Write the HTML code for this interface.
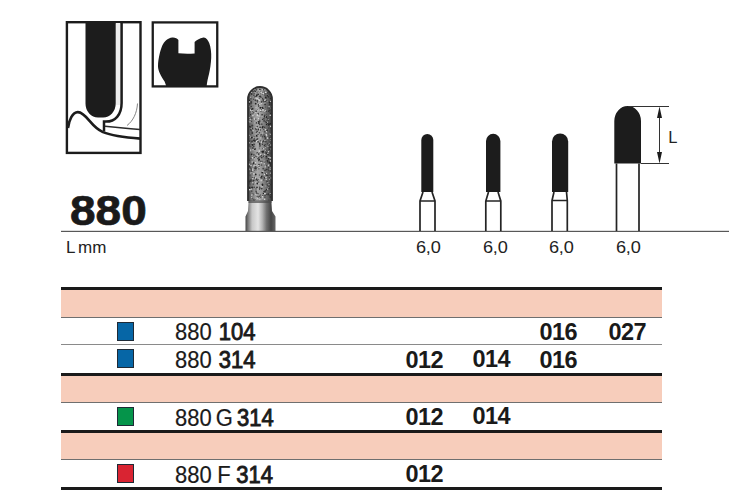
<!DOCTYPE html>
<html><head><meta charset="utf-8">
<style>
html,body{margin:0;padding:0;background:#fff;}
body{width:735px;height:500px;position:relative;overflow:hidden;font-family:"Liberation Sans",sans-serif;color:#1c1c1c;}
.a{position:absolute;}
.pink{position:absolute;left:61px;width:601px;background:#f7cdbb;}
.blk{position:absolute;left:61px;width:601px;height:3px;background:#1a1a1a;}
.gry{position:absolute;left:61px;width:601px;height:1px;background:#8a8a8a;}
.sq{position:absolute;left:117px;width:15px;height:17px;border:1px solid #1e2a36;}
.t{position:absolute;font-size:23px;line-height:22px;white-space:pre;color:#1a1a1a;transform-origin:0 0;transform:scaleX(0.955);word-spacing:1px;-webkit-text-stroke:0.2px #1a1a1a;}
.b{font-weight:bold;}
.t .b{font-weight:normal;-webkit-text-stroke:0.9px #1a1a1a;}
.n{position:absolute;font-size:23.5px;line-height:22px;white-space:pre;color:#1a1a1a;font-weight:bold;letter-spacing:-0.55px;}
.lab{position:absolute;font-size:16.5px;line-height:16px;white-space:pre;color:#222;letter-spacing:-0.2px;transform-origin:0 0;transform:scaleX(1.1);}
</style></head><body>
<svg class="a" style="left:0;top:0" width="735" height="500" viewBox="0 0 735 500">
<!-- diagram box 1 -->
<rect x="66.9" y="22.2" width="73.6" height="130.7" fill="none" stroke="#1c1c1c" stroke-width="2.4"/>
<rect x="115.5" y="23" width="5" height="82" fill="#ededed"/>
<path d="M85.5,23 L115.7,23 L115.7,103.6 A12.5,14 0 0 1 103.2,117.6 L98,117.6 A12.5,14 0 0 1 85.5,103.6 Z" fill="#1c1c1c"/>
<path d="M121.6,23 L121.6,103 C121.6,115 115,121.6 106,121.6 L104,121.6 L104,131.5" fill="none" stroke="#1c1c1c" stroke-width="2.5"/>
<path d="M68,128 C69,120 72.5,112.2 77.8,112.1 C82,112 86,116.5 90,121.3 C93.5,125.5 97.5,129.5 103,132.1 C110,135 120,137 140.5,138.6" fill="none" stroke="#1c1c1c" stroke-width="2.6"/>
<path d="M105,126.3 C115,127.3 128,128.5 140,129.5" fill="none" stroke="#2a2a2a" stroke-width="1.5"/>
<path d="M137.5,103.5 C137,113 133,121 127,125.5" fill="none" stroke="#777" stroke-width="0.9"/>
<!-- box 2 -->
<rect x="152.75" y="22.4" width="64.5" height="64" fill="none" stroke="#1c1c1c" stroke-width="2.3"/>
<path d="M166.4,86.5 L164.6,81.6 C161,76 158,71 158,66 C158.2,59 160,51 162.3,45.5 C164,41.5 167.5,38 172.4,37.4 C175,37.2 177.5,38.5 178.4,40 L178.4,53.2 C184,53.8 189,53.8 194.6,53.4 L194.6,42 C196,40.5 199.5,38.5 203.5,37.6 C206,37.3 208,40 209.2,43 C210.8,47 211.5,53 211.2,58 C211,63 210,70 209,74 C208,78 207,82 206.6,86.5 Z" fill="#1c1c1c"/>
<!-- diamond bur -->
<defs><clipPath id="hc"><path d="M248,201 L248,99 A12,12 0 0 1 272,99 L272,201 Z"/></clipPath>
<linearGradient id="hg" x1="0" x2="1" y1="0" y2="0"><stop offset="0" stop-color="#3a3a3a"/><stop offset="0.12" stop-color="#707070"/><stop offset="0.38" stop-color="#a8a8a8"/><stop offset="0.55" stop-color="#989898"/><stop offset="0.78" stop-color="#6a6a6a"/><stop offset="0.9" stop-color="#555"/><stop offset="1" stop-color="#2e2e2e"/></linearGradient>
<linearGradient id="sg" x1="0" x2="1" y1="0" y2="0"><stop offset="0" stop-color="#444"/><stop offset="0.08" stop-color="#777"/><stop offset="0.22" stop-color="#c8c8c8"/><stop offset="0.42" stop-color="#e4e4e4"/><stop offset="0.56" stop-color="#b4b4b4"/><stop offset="0.7" stop-color="#707070"/><stop offset="0.85" stop-color="#454545"/><stop offset="1" stop-color="#666"/></linearGradient>
</defs>
<path d="M248.5,200 L271.5,200 L271.5,203 L272,211 L275.5,216.5 L275.5,231 L245.5,231 L245.5,216.5 L248,211 L248.5,203 Z" fill="url(#sg)"/>
<g clip-path="url(#hc)"><rect x="248" y="87" width="24" height="114" fill="url(#hg)"/>
<circle cx="262.8" cy="171.5" r="0.8" fill="#c8c8c8"/><circle cx="267.8" cy="175.3" r="0.6" fill="#222"/><circle cx="251.1" cy="140.8" r="0.6" fill="#444"/><circle cx="254.2" cy="170.3" r="0.6" fill="#333"/><circle cx="252.2" cy="177.7" r="0.5" fill="#222"/><circle cx="251.5" cy="197.4" r="0.5" fill="#c8c8c8"/><circle cx="268.6" cy="120.5" r="0.9" fill="#444"/><circle cx="262.9" cy="108.4" r="0.9" fill="#333"/><circle cx="255.4" cy="128.6" r="0.5" fill="#222"/><circle cx="256.1" cy="180.0" r="0.7" fill="#444"/><circle cx="256.3" cy="122.9" r="0.8" fill="#333"/><circle cx="252.7" cy="141.2" r="0.5" fill="#222"/><circle cx="270.3" cy="128.2" r="0.6" fill="#333"/><circle cx="256.9" cy="153.1" r="0.5" fill="#222"/><circle cx="262.8" cy="195.4" r="0.5" fill="#333"/><circle cx="256.4" cy="127.9" r="0.7" fill="#c8c8c8"/><circle cx="262.1" cy="175.9" r="0.6" fill="#333"/><circle cx="270.3" cy="98.3" r="0.6" fill="#222"/><circle cx="256.3" cy="192.0" r="0.7" fill="#333"/><circle cx="255.5" cy="177.9" r="0.7" fill="#dadada"/><circle cx="271.4" cy="106.2" r="0.5" fill="#dadada"/><circle cx="249.2" cy="171.3" r="0.6" fill="#444"/><circle cx="258.2" cy="94.3" r="0.9" fill="#333"/><circle cx="256.2" cy="111.3" r="0.9" fill="#222"/><circle cx="263.0" cy="176.7" r="0.5" fill="#222"/><circle cx="249.9" cy="135.3" r="0.5" fill="#c8c8c8"/><circle cx="270.9" cy="139.0" r="0.7" fill="#dadada"/><circle cx="254.8" cy="140.9" r="0.9" fill="#444"/><circle cx="270.6" cy="158.5" r="0.7" fill="#222"/><circle cx="259.8" cy="146.0" r="0.7" fill="#222"/><circle cx="266.6" cy="175.2" r="0.8" fill="#333"/><circle cx="256.9" cy="167.3" r="0.6" fill="#444"/><circle cx="265.0" cy="195.6" r="0.6" fill="#222"/><circle cx="259.4" cy="175.0" r="0.6" fill="#333"/><circle cx="267.3" cy="160.8" r="0.8" fill="#444"/><circle cx="256.4" cy="193.5" r="0.6" fill="#c8c8c8"/><circle cx="268.5" cy="165.4" r="0.9" fill="#c8c8c8"/><circle cx="260.7" cy="106.7" r="0.8" fill="#dadada"/><circle cx="255.0" cy="96.9" r="0.8" fill="#444"/><circle cx="266.4" cy="153.3" r="0.7" fill="#444"/><circle cx="261.2" cy="185.6" r="0.6" fill="#c8c8c8"/><circle cx="252.2" cy="137.6" r="0.7" fill="#444"/><circle cx="252.7" cy="168.8" r="0.9" fill="#c8c8c8"/><circle cx="249.7" cy="103.0" r="0.6" fill="#222"/><circle cx="261.1" cy="134.7" r="0.6" fill="#222"/><circle cx="262.1" cy="114.8" r="0.9" fill="#333"/><circle cx="270.4" cy="184.3" r="0.8" fill="#444"/><circle cx="257.1" cy="92.1" r="0.7" fill="#444"/><circle cx="260.3" cy="195.0" r="0.6" fill="#222"/><circle cx="258.1" cy="179.5" r="0.7" fill="#222"/><circle cx="252.1" cy="131.1" r="0.7" fill="#222"/><circle cx="262.5" cy="127.5" r="0.9" fill="#222"/><circle cx="256.0" cy="191.1" r="0.7" fill="#444"/><circle cx="257.1" cy="136.6" r="0.6" fill="#444"/><circle cx="257.2" cy="196.1" r="0.9" fill="#333"/><circle cx="265.5" cy="121.8" r="0.6" fill="#333"/><circle cx="259.8" cy="120.2" r="0.7" fill="#444"/><circle cx="270.6" cy="115.6" r="0.5" fill="#333"/><circle cx="248.8" cy="147.9" r="0.6" fill="#c8c8c8"/><circle cx="254.2" cy="118.1" r="0.5" fill="#dadada"/><circle cx="259.8" cy="199.7" r="0.7" fill="#c8c8c8"/><circle cx="248.9" cy="102.2" r="0.6" fill="#dadada"/><circle cx="265.3" cy="91.0" r="0.6" fill="#444"/><circle cx="261.2" cy="165.1" r="0.5" fill="#222"/><circle cx="248.8" cy="175.6" r="0.6" fill="#444"/><circle cx="270.4" cy="161.0" r="0.8" fill="#dadada"/><circle cx="257.5" cy="183.8" r="0.5" fill="#222"/><circle cx="266.4" cy="153.5" r="0.7" fill="#333"/><circle cx="251.8" cy="141.8" r="0.7" fill="#333"/><circle cx="260.9" cy="135.9" r="0.7" fill="#444"/><circle cx="253.8" cy="180.2" r="0.8" fill="#222"/><circle cx="256.2" cy="136.3" r="0.5" fill="#333"/><circle cx="249.6" cy="182.7" r="0.5" fill="#222"/><circle cx="264.9" cy="103.1" r="0.6" fill="#c8c8c8"/><circle cx="252.7" cy="108.8" r="0.8" fill="#222"/><circle cx="249.5" cy="100.2" r="0.6" fill="#222"/><circle cx="261.6" cy="101.3" r="0.6" fill="#222"/><circle cx="258.4" cy="123.4" r="0.7" fill="#444"/><circle cx="257.1" cy="94.3" r="0.8" fill="#444"/><circle cx="264.1" cy="120.7" r="0.9" fill="#222"/><circle cx="254.6" cy="150.1" r="0.6" fill="#c8c8c8"/><circle cx="267.1" cy="185.1" r="0.7" fill="#222"/><circle cx="264.9" cy="161.7" r="0.5" fill="#222"/><circle cx="268.4" cy="145.0" r="0.7" fill="#333"/><circle cx="259.6" cy="124.4" r="0.8" fill="#444"/><circle cx="257.3" cy="183.4" r="0.9" fill="#222"/><circle cx="265.7" cy="97.4" r="0.9" fill="#222"/><circle cx="251.7" cy="158.3" r="0.6" fill="#333"/><circle cx="269.9" cy="167.3" r="0.8" fill="#444"/><circle cx="267.6" cy="160.9" r="0.8" fill="#333"/><circle cx="260.4" cy="154.7" r="0.7" fill="#dadada"/><circle cx="252.8" cy="110.0" r="0.7" fill="#dadada"/><circle cx="248.5" cy="140.9" r="0.9" fill="#333"/><circle cx="255.9" cy="140.0" r="0.5" fill="#222"/><circle cx="257.1" cy="131.4" r="0.8" fill="#333"/><circle cx="251.0" cy="180.1" r="0.8" fill="#222"/><circle cx="259.6" cy="91.6" r="0.9" fill="#222"/><circle cx="264.3" cy="163.8" r="0.7" fill="#c8c8c8"/><circle cx="266.6" cy="124.5" r="0.7" fill="#222"/><circle cx="249.3" cy="168.4" r="0.7" fill="#444"/><circle cx="257.7" cy="197.5" r="0.6" fill="#333"/><circle cx="256.8" cy="95.5" r="0.9" fill="#222"/><circle cx="252.5" cy="111.5" r="0.5" fill="#444"/><circle cx="249.9" cy="175.7" r="0.6" fill="#444"/><circle cx="267.7" cy="182.2" r="0.7" fill="#c8c8c8"/><circle cx="254.0" cy="178.4" r="0.5" fill="#444"/><circle cx="254.1" cy="93.7" r="0.6" fill="#333"/><circle cx="267.7" cy="138.2" r="0.7" fill="#c8c8c8"/><circle cx="252.6" cy="145.2" r="0.6" fill="#222"/><circle cx="269.8" cy="177.0" r="0.5" fill="#c8c8c8"/><circle cx="262.3" cy="184.4" r="0.5" fill="#444"/><circle cx="256.7" cy="135.6" r="0.8" fill="#222"/><circle cx="265.2" cy="190.7" r="0.6" fill="#222"/><circle cx="261.3" cy="103.6" r="0.7" fill="#dadada"/><circle cx="267.3" cy="123.2" r="0.5" fill="#222"/><circle cx="264.5" cy="177.9" r="0.9" fill="#333"/><circle cx="249.9" cy="166.8" r="0.5" fill="#333"/><circle cx="268.8" cy="187.6" r="0.5" fill="#dadada"/><circle cx="265.8" cy="150.6" r="0.9" fill="#222"/><circle cx="261.7" cy="137.7" r="0.8" fill="#222"/><circle cx="265.2" cy="166.9" r="0.6" fill="#dadada"/><circle cx="261.4" cy="124.1" r="0.6" fill="#333"/><circle cx="264.0" cy="120.1" r="0.5" fill="#c8c8c8"/><circle cx="251.5" cy="128.2" r="0.8" fill="#c8c8c8"/><circle cx="253.8" cy="136.3" r="0.6" fill="#222"/><circle cx="252.3" cy="157.7" r="0.5" fill="#dadada"/><circle cx="260.7" cy="107.3" r="0.8" fill="#333"/><circle cx="266.8" cy="101.3" r="0.6" fill="#dadada"/><circle cx="262.2" cy="107.3" r="0.5" fill="#222"/><circle cx="260.7" cy="197.1" r="0.7" fill="#333"/><circle cx="264.3" cy="111.4" r="0.5" fill="#c8c8c8"/><circle cx="259.6" cy="187.2" r="0.6" fill="#333"/><circle cx="267.4" cy="122.1" r="0.7" fill="#c8c8c8"/><circle cx="256.9" cy="179.0" r="0.8" fill="#222"/><circle cx="262.7" cy="133.1" r="0.5" fill="#dadada"/><circle cx="257.3" cy="98.5" r="0.6" fill="#dadada"/><circle cx="269.2" cy="110.4" r="0.8" fill="#444"/><circle cx="259.3" cy="148.0" r="0.5" fill="#444"/><circle cx="248.7" cy="145.6" r="0.7" fill="#333"/><circle cx="249.0" cy="164.3" r="0.7" fill="#444"/><circle cx="259.5" cy="167.1" r="0.6" fill="#c8c8c8"/><circle cx="260.8" cy="177.9" r="0.6" fill="#444"/><circle cx="266.2" cy="111.3" r="0.6" fill="#333"/><circle cx="262.5" cy="185.1" r="0.9" fill="#222"/><circle cx="254.8" cy="168.6" r="0.5" fill="#dadada"/><circle cx="269.1" cy="165.4" r="0.8" fill="#c8c8c8"/><circle cx="259.6" cy="98.3" r="0.5" fill="#444"/><circle cx="258.2" cy="197.0" r="0.8" fill="#444"/><circle cx="260.7" cy="111.3" r="0.8" fill="#333"/><circle cx="251.0" cy="165.5" r="0.7" fill="#dadada"/><circle cx="254.2" cy="99.3" r="0.6" fill="#c8c8c8"/><circle cx="269.1" cy="106.8" r="0.7" fill="#c8c8c8"/><circle cx="263.6" cy="152.1" r="0.7" fill="#444"/><circle cx="265.2" cy="134.9" r="0.6" fill="#222"/><circle cx="255.5" cy="119.6" r="0.7" fill="#c8c8c8"/><circle cx="258.2" cy="104.8" r="0.6" fill="#444"/><circle cx="252.7" cy="109.4" r="0.7" fill="#444"/><circle cx="256.1" cy="96.6" r="0.9" fill="#444"/><circle cx="270.5" cy="123.8" r="0.8" fill="#222"/><circle cx="269.0" cy="157.2" r="0.8" fill="#c8c8c8"/><circle cx="253.0" cy="105.6" r="0.5" fill="#444"/><circle cx="266.0" cy="152.7" r="0.6" fill="#222"/><circle cx="264.9" cy="192.0" r="0.9" fill="#222"/><circle cx="256.9" cy="179.6" r="0.5" fill="#222"/><circle cx="259.0" cy="164.6" r="0.8" fill="#333"/><circle cx="270.2" cy="140.4" r="0.5" fill="#dadada"/><circle cx="257.3" cy="126.5" r="0.8" fill="#444"/><circle cx="264.9" cy="89.8" r="0.8" fill="#c8c8c8"/><circle cx="269.6" cy="131.0" r="0.6" fill="#444"/><circle cx="266.1" cy="98.0" r="0.5" fill="#222"/><circle cx="260.4" cy="93.7" r="0.6" fill="#444"/><circle cx="265.1" cy="104.4" r="0.9" fill="#333"/><circle cx="271.1" cy="148.9" r="0.6" fill="#c8c8c8"/><circle cx="258.9" cy="102.5" r="0.5" fill="#c8c8c8"/><circle cx="256.8" cy="89.8" r="0.6" fill="#333"/><circle cx="268.5" cy="96.8" r="0.9" fill="#333"/><circle cx="248.8" cy="146.4" r="0.9" fill="#444"/><circle cx="259.3" cy="90.5" r="0.5" fill="#dadada"/><circle cx="268.3" cy="193.7" r="0.7" fill="#444"/><circle cx="266.2" cy="134.5" r="0.8" fill="#dadada"/><circle cx="248.8" cy="179.8" r="0.5" fill="#333"/><circle cx="266.5" cy="135.5" r="0.9" fill="#c8c8c8"/><circle cx="257.6" cy="109.4" r="0.5" fill="#222"/><circle cx="263.8" cy="101.9" r="0.5" fill="#222"/><circle cx="264.3" cy="92.0" r="0.6" fill="#444"/><circle cx="248.9" cy="181.2" r="0.9" fill="#222"/><circle cx="259.3" cy="96.7" r="0.6" fill="#222"/><circle cx="252.8" cy="136.3" r="0.6" fill="#dadada"/><circle cx="256.2" cy="112.1" r="0.6" fill="#c8c8c8"/><circle cx="255.0" cy="99.9" r="0.6" fill="#333"/><circle cx="261.1" cy="137.9" r="0.8" fill="#c8c8c8"/><circle cx="254.6" cy="149.4" r="0.8" fill="#333"/><circle cx="263.8" cy="94.3" r="0.5" fill="#222"/><circle cx="260.1" cy="156.7" r="0.8" fill="#444"/><circle cx="254.0" cy="165.9" r="0.8" fill="#dadada"/><circle cx="258.6" cy="99.5" r="0.5" fill="#dadada"/><circle cx="264.9" cy="193.4" r="0.9" fill="#dadada"/><circle cx="268.0" cy="154.5" r="0.8" fill="#222"/><circle cx="265.4" cy="147.5" r="0.6" fill="#dadada"/><circle cx="267.3" cy="130.0" r="0.6" fill="#222"/><circle cx="259.9" cy="151.7" r="0.5" fill="#222"/><circle cx="265.6" cy="101.1" r="0.8" fill="#333"/><circle cx="254.6" cy="119.0" r="0.8" fill="#dadada"/><circle cx="254.3" cy="90.8" r="0.6" fill="#222"/><circle cx="264.6" cy="154.6" r="0.8" fill="#c8c8c8"/><circle cx="262.2" cy="151.6" r="0.9" fill="#222"/><circle cx="267.5" cy="143.6" r="0.8" fill="#444"/><circle cx="258.0" cy="134.4" r="0.7" fill="#444"/><circle cx="253.6" cy="194.8" r="0.5" fill="#444"/><circle cx="262.1" cy="92.8" r="0.8" fill="#444"/><circle cx="269.0" cy="169.1" r="0.5" fill="#333"/><circle cx="251.3" cy="172.9" r="0.6" fill="#222"/><circle cx="268.7" cy="124.3" r="0.7" fill="#333"/><circle cx="252.1" cy="112.3" r="0.6" fill="#c8c8c8"/><circle cx="259.0" cy="104.9" r="0.9" fill="#333"/><circle cx="262.8" cy="161.2" r="0.5" fill="#333"/><circle cx="252.4" cy="144.5" r="0.9" fill="#222"/><circle cx="251.8" cy="118.1" r="0.7" fill="#222"/><circle cx="261.3" cy="162.5" r="0.6" fill="#dadada"/><circle cx="255.3" cy="100.1" r="0.6" fill="#444"/><circle cx="254.6" cy="158.8" r="0.7" fill="#c8c8c8"/><circle cx="264.4" cy="100.4" r="0.5" fill="#dadada"/><circle cx="267.9" cy="153.5" r="0.5" fill="#dadada"/><circle cx="252.5" cy="125.7" r="0.8" fill="#333"/><circle cx="268.8" cy="123.1" r="0.6" fill="#333"/><circle cx="249.9" cy="121.9" r="0.5" fill="#dadada"/><circle cx="250.9" cy="134.8" r="0.6" fill="#444"/><circle cx="260.9" cy="161.3" r="0.8" fill="#333"/><circle cx="270.3" cy="140.4" r="0.5" fill="#c8c8c8"/><circle cx="262.6" cy="98.7" r="0.7" fill="#333"/><circle cx="258.6" cy="118.6" r="0.7" fill="#dadada"/><circle cx="249.4" cy="187.2" r="0.9" fill="#444"/><circle cx="263.1" cy="191.4" r="0.6" fill="#c8c8c8"/><circle cx="251.7" cy="94.0" r="0.9" fill="#333"/><circle cx="261.2" cy="177.8" r="0.7" fill="#222"/><circle cx="265.6" cy="116.8" r="0.7" fill="#c8c8c8"/><circle cx="251.6" cy="110.8" r="0.8" fill="#c8c8c8"/><circle cx="258.7" cy="114.3" r="0.6" fill="#444"/><circle cx="258.8" cy="157.7" r="0.8" fill="#444"/><circle cx="259.6" cy="121.5" r="0.8" fill="#444"/><circle cx="249.7" cy="169.1" r="0.5" fill="#dadada"/><circle cx="261.8" cy="142.1" r="0.8" fill="#dadada"/><circle cx="262.4" cy="94.5" r="0.6" fill="#333"/><circle cx="258.0" cy="197.8" r="0.5" fill="#444"/><circle cx="249.3" cy="142.8" r="0.5" fill="#dadada"/><circle cx="263.7" cy="135.3" r="0.8" fill="#333"/><circle cx="269.5" cy="147.0" r="0.6" fill="#222"/><circle cx="252.2" cy="143.6" r="0.5" fill="#dadada"/><circle cx="267.8" cy="92.9" r="0.7" fill="#222"/><circle cx="265.4" cy="107.0" r="0.5" fill="#444"/><circle cx="267.6" cy="161.2" r="0.6" fill="#222"/><circle cx="263.3" cy="191.5" r="0.5" fill="#222"/><circle cx="265.6" cy="144.7" r="0.6" fill="#444"/><circle cx="250.7" cy="150.7" r="0.7" fill="#c8c8c8"/><circle cx="269.0" cy="147.7" r="0.5" fill="#333"/><circle cx="248.8" cy="174.2" r="0.5" fill="#333"/><circle cx="269.2" cy="140.8" r="0.6" fill="#444"/><circle cx="266.2" cy="158.1" r="0.8" fill="#444"/><circle cx="269.4" cy="183.8" r="0.5" fill="#333"/><circle cx="271.3" cy="110.6" r="0.5" fill="#222"/><circle cx="260.8" cy="187.9" r="0.5" fill="#222"/><circle cx="258.4" cy="121.8" r="0.8" fill="#222"/><circle cx="266.3" cy="100.9" r="0.6" fill="#222"/><circle cx="257.8" cy="138.7" r="0.6" fill="#333"/><circle cx="260.6" cy="110.6" r="0.8" fill="#dadada"/><circle cx="266.0" cy="186.0" r="0.9" fill="#dadada"/><circle cx="267.5" cy="189.2" r="0.7" fill="#dadada"/><circle cx="265.4" cy="110.8" r="0.7" fill="#c8c8c8"/><circle cx="252.9" cy="148.0" r="0.8" fill="#222"/><circle cx="264.8" cy="136.7" r="0.8" fill="#222"/><circle cx="248.7" cy="104.7" r="0.6" fill="#222"/><circle cx="264.6" cy="140.5" r="0.8" fill="#c8c8c8"/><circle cx="259.7" cy="129.4" r="0.9" fill="#dadada"/><circle cx="265.9" cy="141.7" r="0.8" fill="#333"/><circle cx="262.5" cy="148.4" r="0.5" fill="#333"/><circle cx="259.5" cy="100.3" r="0.7" fill="#dadada"/><circle cx="253.6" cy="162.8" r="0.7" fill="#444"/><circle cx="256.0" cy="107.6" r="0.6" fill="#c8c8c8"/><circle cx="255.6" cy="164.2" r="0.5" fill="#222"/><circle cx="266.1" cy="186.0" r="0.8" fill="#333"/><circle cx="260.3" cy="140.8" r="0.6" fill="#333"/><circle cx="262.7" cy="152.4" r="0.9" fill="#333"/><circle cx="267.6" cy="154.4" r="0.5" fill="#333"/><circle cx="250.7" cy="126.9" r="0.9" fill="#333"/><circle cx="268.5" cy="128.1" r="0.5" fill="#333"/><circle cx="256.0" cy="165.2" r="0.7" fill="#c8c8c8"/><circle cx="262.2" cy="188.1" r="0.6" fill="#444"/><circle cx="260.6" cy="145.7" r="0.5" fill="#333"/><circle cx="258.0" cy="110.1" r="0.8" fill="#c8c8c8"/><circle cx="251.5" cy="137.4" r="0.8" fill="#333"/><circle cx="258.2" cy="193.7" r="0.5" fill="#222"/><circle cx="265.4" cy="92.7" r="0.5" fill="#c8c8c8"/><circle cx="250.1" cy="97.2" r="0.7" fill="#444"/><circle cx="253.8" cy="136.8" r="0.6" fill="#444"/><circle cx="264.5" cy="145.4" r="0.8" fill="#dadada"/><circle cx="268.0" cy="108.0" r="0.7" fill="#444"/><circle cx="250.5" cy="137.2" r="0.6" fill="#dadada"/><circle cx="270.2" cy="193.8" r="0.6" fill="#dadada"/><circle cx="251.5" cy="172.1" r="0.8" fill="#333"/><circle cx="252.7" cy="198.7" r="0.5" fill="#333"/><circle cx="254.4" cy="157.7" r="0.6" fill="#333"/><circle cx="251.2" cy="130.5" r="0.5" fill="#333"/><circle cx="254.1" cy="144.2" r="0.7" fill="#222"/><circle cx="266.4" cy="122.5" r="0.6" fill="#222"/><circle cx="253.0" cy="91.7" r="0.7" fill="#222"/><circle cx="271.3" cy="125.1" r="0.6" fill="#222"/><circle cx="249.2" cy="101.7" r="0.5" fill="#dadada"/><circle cx="251.3" cy="189.1" r="0.7" fill="#dadada"/><circle cx="266.5" cy="116.7" r="0.5" fill="#222"/><circle cx="257.5" cy="115.1" r="0.9" fill="#dadada"/><circle cx="259.3" cy="114.1" r="0.5" fill="#c8c8c8"/><circle cx="257.3" cy="152.5" r="0.6" fill="#333"/><circle cx="248.6" cy="104.6" r="0.8" fill="#dadada"/><circle cx="257.0" cy="195.7" r="0.7" fill="#c8c8c8"/><circle cx="262.1" cy="124.2" r="0.6" fill="#444"/><circle cx="253.5" cy="182.6" r="0.7" fill="#444"/><circle cx="248.7" cy="153.8" r="0.6" fill="#333"/><circle cx="250.6" cy="114.7" r="0.6" fill="#222"/><circle cx="255.0" cy="170.2" r="0.5" fill="#c8c8c8"/><circle cx="262.4" cy="157.2" r="0.8" fill="#222"/><circle cx="268.5" cy="158.8" r="0.8" fill="#222"/><circle cx="262.1" cy="178.1" r="0.7" fill="#444"/><circle cx="256.5" cy="141.5" r="0.7" fill="#dadada"/><circle cx="248.8" cy="106.6" r="0.5" fill="#dadada"/><circle cx="254.9" cy="140.9" r="0.7" fill="#222"/><circle cx="253.0" cy="149.7" r="0.7" fill="#c8c8c8"/><circle cx="269.5" cy="108.3" r="0.7" fill="#444"/><circle cx="252.2" cy="133.0" r="0.9" fill="#333"/><circle cx="255.7" cy="100.7" r="0.6" fill="#333"/><circle cx="267.0" cy="130.6" r="0.8" fill="#333"/><circle cx="259.7" cy="104.8" r="0.8" fill="#dadada"/><circle cx="270.1" cy="95.0" r="0.9" fill="#444"/><circle cx="249.5" cy="144.8" r="0.7" fill="#444"/><circle cx="252.5" cy="136.5" r="0.8" fill="#222"/><circle cx="269.8" cy="167.6" r="0.8" fill="#c8c8c8"/><circle cx="261.5" cy="176.4" r="0.7" fill="#222"/><circle cx="258.1" cy="141.9" r="0.8" fill="#333"/><circle cx="259.6" cy="143.2" r="0.7" fill="#222"/><circle cx="255.9" cy="168.3" r="0.9" fill="#333"/><circle cx="263.5" cy="148.7" r="0.8" fill="#c8c8c8"/><circle cx="248.8" cy="166.5" r="0.8" fill="#222"/><circle cx="267.0" cy="181.2" r="0.5" fill="#222"/><circle cx="270.3" cy="173.1" r="0.6" fill="#dadada"/><circle cx="264.9" cy="197.2" r="0.7" fill="#444"/><circle cx="269.1" cy="124.4" r="0.8" fill="#222"/><circle cx="260.0" cy="92.8" r="0.5" fill="#dadada"/><circle cx="270.9" cy="113.9" r="0.8" fill="#222"/><circle cx="261.6" cy="188.8" r="0.7" fill="#333"/><circle cx="253.5" cy="137.1" r="0.6" fill="#c8c8c8"/><circle cx="255.7" cy="174.4" r="0.9" fill="#222"/><circle cx="271.3" cy="99.7" r="0.7" fill="#444"/><circle cx="260.5" cy="118.3" r="0.5" fill="#c8c8c8"/><circle cx="250.8" cy="121.8" r="0.5" fill="#c8c8c8"/><circle cx="255.8" cy="194.5" r="0.5" fill="#dadada"/><circle cx="257.3" cy="100.9" r="0.8" fill="#333"/><circle cx="265.5" cy="179.2" r="0.5" fill="#333"/><circle cx="251.7" cy="169.0" r="0.7" fill="#444"/><circle cx="268.4" cy="119.3" r="0.6" fill="#c8c8c8"/><circle cx="258.9" cy="122.9" r="0.9" fill="#333"/><circle cx="260.5" cy="96.4" r="0.9" fill="#444"/><circle cx="254.0" cy="200.2" r="0.7" fill="#444"/><circle cx="264.0" cy="141.3" r="0.7" fill="#444"/><circle cx="249.2" cy="101.6" r="0.6" fill="#444"/><circle cx="259.3" cy="151.1" r="0.9" fill="#dadada"/><circle cx="253.3" cy="183.9" r="0.7" fill="#222"/><circle cx="262.6" cy="196.7" r="0.7" fill="#dadada"/><circle cx="249.6" cy="188.0" r="0.9" fill="#222"/><circle cx="253.8" cy="146.2" r="0.8" fill="#333"/><circle cx="253.9" cy="95.2" r="0.7" fill="#333"/><circle cx="270.2" cy="197.0" r="0.7" fill="#222"/><circle cx="258.7" cy="106.3" r="0.6" fill="#333"/><circle cx="255.3" cy="198.3" r="0.6" fill="#c8c8c8"/><circle cx="250.2" cy="119.5" r="0.7" fill="#c8c8c8"/><circle cx="265.6" cy="129.8" r="0.8" fill="#dadada"/><circle cx="260.4" cy="129.9" r="0.6" fill="#222"/><circle cx="262.2" cy="172.6" r="0.9" fill="#222"/><circle cx="250.7" cy="110.1" r="0.8" fill="#dadada"/><circle cx="264.0" cy="100.8" r="0.9" fill="#333"/><circle cx="251.1" cy="92.1" r="0.9" fill="#dadada"/><circle cx="252.1" cy="125.4" r="0.8" fill="#333"/><circle cx="252.4" cy="187.5" r="0.9" fill="#333"/><circle cx="256.0" cy="97.8" r="0.7" fill="#c8c8c8"/><circle cx="255.5" cy="156.3" r="0.7" fill="#444"/><circle cx="252.3" cy="110.2" r="0.6" fill="#dadada"/><circle cx="269.9" cy="157.9" r="0.7" fill="#c8c8c8"/><circle cx="250.9" cy="173.0" r="0.7" fill="#dadada"/><circle cx="264.6" cy="174.6" r="0.8" fill="#dadada"/><circle cx="270.2" cy="165.3" r="0.9" fill="#444"/><circle cx="253.5" cy="199.3" r="0.5" fill="#444"/><circle cx="255.8" cy="166.6" r="0.5" fill="#222"/><circle cx="251.7" cy="181.6" r="0.6" fill="#444"/><circle cx="258.9" cy="168.8" r="0.6" fill="#333"/><circle cx="263.6" cy="141.0" r="0.7" fill="#333"/><circle cx="266.6" cy="177.7" r="0.5" fill="#333"/><circle cx="271.0" cy="157.9" r="0.8" fill="#dadada"/><circle cx="268.7" cy="92.1" r="0.7" fill="#444"/><circle cx="261.7" cy="101.8" r="0.9" fill="#444"/><circle cx="263.0" cy="109.9" r="0.9" fill="#dadada"/><circle cx="251.5" cy="170.2" r="0.6" fill="#444"/><circle cx="265.7" cy="173.9" r="0.6" fill="#222"/><circle cx="253.5" cy="163.2" r="0.8" fill="#222"/><circle cx="250.8" cy="146.4" r="0.5" fill="#444"/><circle cx="253.8" cy="170.2" r="0.6" fill="#333"/><circle cx="251.0" cy="103.7" r="0.7" fill="#444"/><circle cx="262.4" cy="144.2" r="0.7" fill="#333"/><circle cx="263.0" cy="103.1" r="0.5" fill="#dadada"/><circle cx="252.4" cy="128.4" r="0.8" fill="#333"/><circle cx="258.2" cy="113.5" r="0.8" fill="#444"/><circle cx="270.6" cy="101.5" r="0.8" fill="#c8c8c8"/><circle cx="252.9" cy="178.8" r="0.7" fill="#dadada"/><circle cx="256.0" cy="188.9" r="0.6" fill="#333"/><circle cx="257.5" cy="102.0" r="0.8" fill="#444"/><circle cx="251.9" cy="109.4" r="0.9" fill="#333"/><circle cx="257.3" cy="155.4" r="0.5" fill="#c8c8c8"/><circle cx="269.3" cy="187.3" r="0.8" fill="#444"/><circle cx="258.0" cy="178.9" r="0.6" fill="#dadada"/><circle cx="270.5" cy="154.5" r="0.5" fill="#444"/><circle cx="253.0" cy="182.8" r="0.8" fill="#dadada"/><circle cx="259.9" cy="96.3" r="0.7" fill="#333"/><circle cx="252.5" cy="178.7" r="0.5" fill="#c8c8c8"/><circle cx="263.2" cy="151.4" r="0.8" fill="#222"/><circle cx="259.4" cy="189.0" r="0.8" fill="#222"/><circle cx="262.5" cy="184.3" r="0.8" fill="#222"/><circle cx="249.4" cy="100.5" r="0.5" fill="#222"/><circle cx="256.9" cy="193.3" r="0.7" fill="#222"/><circle cx="271.0" cy="107.9" r="0.5" fill="#dadada"/><circle cx="262.9" cy="89.8" r="0.8" fill="#dadada"/><circle cx="253.2" cy="112.9" r="0.7" fill="#222"/><circle cx="251.8" cy="191.1" r="0.6" fill="#222"/><circle cx="264.4" cy="117.6" r="0.5" fill="#444"/><circle cx="271.0" cy="166.3" r="0.5" fill="#222"/><circle cx="259.8" cy="178.7" r="0.5" fill="#dadada"/><circle cx="271.4" cy="178.0" r="0.9" fill="#c8c8c8"/><circle cx="251.3" cy="102.1" r="0.8" fill="#222"/><circle cx="268.2" cy="194.4" r="0.9" fill="#333"/><circle cx="266.4" cy="114.3" r="0.5" fill="#444"/><circle cx="257.0" cy="187.4" r="0.8" fill="#222"/><circle cx="249.5" cy="126.3" r="0.6" fill="#222"/><circle cx="264.9" cy="170.5" r="0.7" fill="#444"/><circle cx="264.3" cy="155.8" r="0.9" fill="#dadada"/><circle cx="264.7" cy="131.7" r="0.8" fill="#444"/><circle cx="255.6" cy="162.7" r="0.7" fill="#dadada"/><circle cx="271.4" cy="195.0" r="0.5" fill="#333"/><circle cx="258.4" cy="129.5" r="0.9" fill="#333"/><circle cx="266.3" cy="117.1" r="0.9" fill="#222"/><circle cx="252.3" cy="157.7" r="0.5" fill="#dadada"/><circle cx="265.2" cy="170.2" r="0.6" fill="#333"/><circle cx="255.0" cy="199.2" r="0.6" fill="#444"/><circle cx="269.6" cy="102.5" r="0.9" fill="#222"/><circle cx="260.1" cy="117.9" r="0.5" fill="#333"/><circle cx="262.5" cy="119.3" r="0.6" fill="#222"/><circle cx="263.8" cy="180.0" r="0.8" fill="#444"/><circle cx="269.2" cy="155.2" r="0.6" fill="#444"/><circle cx="255.3" cy="91.2" r="0.7" fill="#222"/><circle cx="258.7" cy="182.1" r="0.7" fill="#222"/><circle cx="269.7" cy="137.7" r="0.5" fill="#222"/><circle cx="257.9" cy="158.6" r="0.8" fill="#444"/><circle cx="251.9" cy="187.4" r="0.6" fill="#222"/><circle cx="269.7" cy="104.4" r="0.8" fill="#333"/><circle cx="263.2" cy="168.6" r="0.9" fill="#444"/><circle cx="249.4" cy="104.0" r="0.8" fill="#222"/><circle cx="248.5" cy="121.2" r="0.9" fill="#dadada"/><circle cx="262.8" cy="198.1" r="0.7" fill="#c8c8c8"/><circle cx="251.5" cy="137.7" r="0.8" fill="#222"/><circle cx="265.0" cy="139.2" r="0.6" fill="#444"/><circle cx="264.6" cy="199.2" r="0.8" fill="#dadada"/><circle cx="252.9" cy="164.8" r="0.6" fill="#444"/><circle cx="251.8" cy="195.1" r="0.8" fill="#c8c8c8"/><circle cx="250.5" cy="97.2" r="0.6" fill="#c8c8c8"/><circle cx="253.9" cy="173.9" r="0.8" fill="#dadada"/><circle cx="267.3" cy="95.8" r="0.8" fill="#222"/><circle cx="259.3" cy="196.3" r="0.8" fill="#444"/><circle cx="267.9" cy="118.7" r="0.9" fill="#444"/><circle cx="250.1" cy="158.3" r="0.6" fill="#444"/><circle cx="261.3" cy="155.7" r="0.8" fill="#333"/><circle cx="266.8" cy="132.1" r="0.5" fill="#c8c8c8"/><circle cx="269.6" cy="110.6" r="0.7" fill="#333"/><circle cx="263.2" cy="136.5" r="0.8" fill="#333"/><circle cx="270.7" cy="166.5" r="0.6" fill="#444"/><circle cx="261.5" cy="109.4" r="0.5" fill="#444"/><circle cx="257.4" cy="180.7" r="0.6" fill="#333"/><circle cx="255.7" cy="103.7" r="0.9" fill="#222"/><circle cx="256.3" cy="132.5" r="0.6" fill="#333"/><circle cx="271.2" cy="147.3" r="0.7" fill="#222"/><circle cx="264.9" cy="145.1" r="0.6" fill="#222"/><circle cx="263.9" cy="118.9" r="0.8" fill="#333"/><circle cx="253.3" cy="181.7" r="0.5" fill="#333"/><circle cx="267.9" cy="146.2" r="0.6" fill="#c8c8c8"/><circle cx="255.0" cy="122.8" r="0.6" fill="#c8c8c8"/><circle cx="261.8" cy="97.2" r="0.5" fill="#333"/><circle cx="258.9" cy="160.7" r="0.7" fill="#333"/><circle cx="269.4" cy="179.1" r="0.6" fill="#c8c8c8"/><circle cx="253.2" cy="176.1" r="0.7" fill="#c8c8c8"/><circle cx="251.8" cy="180.5" r="0.5" fill="#444"/><circle cx="266.0" cy="150.5" r="0.8" fill="#dadada"/><circle cx="249.9" cy="184.0" r="0.5" fill="#222"/><circle cx="268.9" cy="200.1" r="0.6" fill="#333"/><circle cx="264.7" cy="115.2" r="0.7" fill="#444"/><circle cx="259.8" cy="144.1" r="0.9" fill="#222"/><circle cx="269.8" cy="195.4" r="0.8" fill="#444"/><circle cx="266.3" cy="156.6" r="0.8" fill="#222"/><circle cx="269.1" cy="148.5" r="0.6" fill="#444"/><circle cx="252.7" cy="154.8" r="0.6" fill="#c8c8c8"/><circle cx="263.0" cy="157.2" r="0.7" fill="#c8c8c8"/><circle cx="266.5" cy="169.6" r="0.8" fill="#333"/><circle cx="269.0" cy="184.6" r="0.5" fill="#c8c8c8"/><circle cx="267.2" cy="181.8" r="0.6" fill="#222"/><circle cx="251.3" cy="106.4" r="0.7" fill="#333"/><circle cx="252.2" cy="162.0" r="0.8" fill="#c8c8c8"/><circle cx="259.1" cy="116.0" r="0.8" fill="#c8c8c8"/><circle cx="270.5" cy="164.9" r="0.7" fill="#222"/><circle cx="263.1" cy="136.0" r="0.6" fill="#dadada"/><circle cx="252.0" cy="180.1" r="0.7" fill="#444"/><circle cx="254.9" cy="167.0" r="0.6" fill="#222"/><circle cx="249.8" cy="189.6" r="0.9" fill="#dadada"/><circle cx="256.1" cy="98.5" r="0.5" fill="#dadada"/><circle cx="269.7" cy="112.2" r="0.5" fill="#444"/><circle cx="252.5" cy="125.3" r="0.5" fill="#444"/><circle cx="249.8" cy="188.5" r="0.6" fill="#333"/><circle cx="262.9" cy="126.5" r="0.7" fill="#222"/><circle cx="255.4" cy="168.0" r="0.8" fill="#333"/><circle cx="256.6" cy="156.7" r="0.6" fill="#333"/><circle cx="252.1" cy="136.2" r="0.5" fill="#dadada"/><circle cx="254.4" cy="138.9" r="0.7" fill="#333"/><circle cx="264.3" cy="145.2" r="0.8" fill="#222"/><circle cx="266.0" cy="177.3" r="0.9" fill="#c8c8c8"/><circle cx="259.7" cy="91.6" r="0.6" fill="#dadada"/><circle cx="257.0" cy="139.4" r="0.8" fill="#333"/><circle cx="266.7" cy="165.6" r="0.7" fill="#444"/><circle cx="264.7" cy="127.2" r="0.7" fill="#333"/><circle cx="263.6" cy="129.6" r="0.5" fill="#444"/><circle cx="266.1" cy="179.3" r="0.8" fill="#dadada"/><circle cx="253.0" cy="105.0" r="0.5" fill="#c8c8c8"/><circle cx="255.9" cy="169.9" r="0.7" fill="#444"/><circle cx="253.9" cy="154.9" r="0.8" fill="#444"/><circle cx="249.1" cy="164.2" r="0.7" fill="#dadada"/><circle cx="268.3" cy="125.2" r="0.5" fill="#222"/><circle cx="253.0" cy="193.4" r="0.5" fill="#444"/><circle cx="265.3" cy="166.0" r="0.6" fill="#c8c8c8"/><circle cx="250.7" cy="149.2" r="0.5" fill="#dadada"/><circle cx="263.2" cy="93.7" r="0.9" fill="#dadada"/><circle cx="260.1" cy="127.3" r="0.8" fill="#222"/><circle cx="249.3" cy="140.9" r="0.5" fill="#333"/><circle cx="261.8" cy="164.9" r="0.5" fill="#222"/><circle cx="253.0" cy="130.8" r="0.7" fill="#dadada"/><circle cx="270.8" cy="139.6" r="0.8" fill="#444"/><circle cx="265.0" cy="95.6" r="0.7" fill="#444"/><circle cx="267.7" cy="169.4" r="0.6" fill="#444"/><circle cx="262.5" cy="136.3" r="0.7" fill="#444"/><circle cx="263.4" cy="193.4" r="0.7" fill="#222"/><circle cx="251.7" cy="154.3" r="0.9" fill="#222"/><circle cx="261.8" cy="157.7" r="0.7" fill="#222"/><circle cx="265.3" cy="100.0" r="0.7" fill="#dadada"/><circle cx="270.1" cy="169.2" r="0.6" fill="#dadada"/><circle cx="251.0" cy="103.1" r="0.9" fill="#444"/><circle cx="259.1" cy="166.6" r="0.5" fill="#333"/><circle cx="250.7" cy="129.8" r="0.8" fill="#333"/><circle cx="266.5" cy="173.5" r="0.7" fill="#c8c8c8"/><circle cx="257.4" cy="140.5" r="0.5" fill="#dadada"/><circle cx="268.4" cy="188.3" r="0.5" fill="#444"/><circle cx="249.4" cy="186.3" r="0.6" fill="#444"/><circle cx="260.6" cy="96.9" r="0.5" fill="#222"/><circle cx="269.5" cy="162.5" r="0.9" fill="#222"/><circle cx="266.3" cy="194.3" r="0.5" fill="#222"/><circle cx="269.5" cy="188.7" r="0.5" fill="#222"/><circle cx="265.4" cy="138.1" r="0.8" fill="#333"/><circle cx="254.3" cy="187.2" r="0.8" fill="#444"/><circle cx="266.6" cy="189.7" r="0.8" fill="#222"/><circle cx="270.6" cy="184.6" r="0.7" fill="#333"/><circle cx="268.6" cy="111.3" r="0.8" fill="#333"/><circle cx="254.5" cy="177.7" r="0.6" fill="#444"/><circle cx="256.3" cy="157.1" r="0.5" fill="#222"/><circle cx="269.0" cy="167.5" r="0.7" fill="#222"/><circle cx="255.4" cy="148.9" r="0.6" fill="#222"/><circle cx="255.6" cy="112.3" r="0.6" fill="#c8c8c8"/><circle cx="269.3" cy="149.4" r="0.6" fill="#222"/><circle cx="270.3" cy="134.0" r="0.8" fill="#c8c8c8"/><circle cx="267.0" cy="120.8" r="0.7" fill="#444"/><circle cx="260.3" cy="107.8" r="0.9" fill="#222"/><circle cx="271.3" cy="140.1" r="0.9" fill="#333"/><circle cx="255.8" cy="119.2" r="0.7" fill="#444"/><circle cx="254.1" cy="114.0" r="0.6" fill="#dadada"/><circle cx="269.5" cy="177.7" r="0.8" fill="#333"/><circle cx="256.1" cy="129.4" r="0.9" fill="#444"/><circle cx="251.9" cy="172.5" r="0.6" fill="#c8c8c8"/><circle cx="258.1" cy="189.1" r="0.5" fill="#dadada"/><circle cx="258.8" cy="154.1" r="0.8" fill="#222"/><circle cx="270.2" cy="115.2" r="0.8" fill="#dadada"/><circle cx="255.7" cy="182.8" r="0.6" fill="#dadada"/><circle cx="263.7" cy="89.8" r="0.8" fill="#333"/><circle cx="249.2" cy="127.5" r="0.5" fill="#333"/><circle cx="254.3" cy="168.5" r="0.5" fill="#222"/><circle cx="271.4" cy="107.9" r="0.7" fill="#333"/><circle cx="249.6" cy="160.2" r="0.6" fill="#333"/><circle cx="270.2" cy="163.4" r="0.5" fill="#222"/><circle cx="261.4" cy="92.7" r="0.9" fill="#c8c8c8"/><circle cx="259.4" cy="132.7" r="0.8" fill="#444"/><circle cx="266.4" cy="131.6" r="0.6" fill="#dadada"/><circle cx="253.8" cy="140.4" r="0.8" fill="#222"/><circle cx="265.4" cy="93.5" r="0.9" fill="#444"/><circle cx="262.1" cy="186.9" r="0.8" fill="#c8c8c8"/><circle cx="259.2" cy="159.4" r="0.8" fill="#222"/><circle cx="256.0" cy="191.0" r="0.6" fill="#444"/><circle cx="267.4" cy="138.1" r="0.8" fill="#c8c8c8"/><circle cx="252.9" cy="170.1" r="0.9" fill="#dadada"/><circle cx="257.6" cy="198.2" r="0.9" fill="#c8c8c8"/><circle cx="269.0" cy="186.4" r="0.7" fill="#444"/><circle cx="264.1" cy="161.0" r="0.5" fill="#dadada"/><circle cx="270.0" cy="153.1" r="0.7" fill="#333"/><circle cx="270.9" cy="145.0" r="0.8" fill="#dadada"/><circle cx="265.1" cy="146.7" r="0.8" fill="#444"/><circle cx="268.6" cy="151.7" r="0.6" fill="#dadada"/><circle cx="249.2" cy="101.7" r="0.6" fill="#c8c8c8"/><circle cx="259.9" cy="89.3" r="0.9" fill="#333"/><circle cx="264.5" cy="100.3" r="0.6" fill="#dadada"/><circle cx="266.6" cy="150.2" r="0.7" fill="#444"/><circle cx="251.0" cy="98.7" r="0.7" fill="#444"/><circle cx="252.9" cy="140.5" r="0.6" fill="#444"/><circle cx="264.6" cy="116.2" r="0.7" fill="#222"/><circle cx="259.6" cy="121.7" r="0.8" fill="#444"/><circle cx="263.3" cy="100.0" r="0.9" fill="#444"/><circle cx="258.6" cy="165.5" r="0.5" fill="#dadada"/><circle cx="263.6" cy="156.8" r="0.7" fill="#333"/><circle cx="271.0" cy="133.4" r="0.7" fill="#444"/><circle cx="253.6" cy="99.2" r="0.7" fill="#444"/><circle cx="256.4" cy="89.7" r="0.8" fill="#444"/><circle cx="265.7" cy="92.3" r="0.9" fill="#dadada"/><circle cx="262.6" cy="142.0" r="0.7" fill="#333"/><circle cx="271.0" cy="180.8" r="0.6" fill="#444"/><circle cx="248.8" cy="154.4" r="0.6" fill="#444"/><circle cx="262.4" cy="107.6" r="0.6" fill="#222"/><circle cx="269.3" cy="144.3" r="0.8" fill="#dadada"/><circle cx="249.0" cy="117.6" r="0.7" fill="#c8c8c8"/><circle cx="256.1" cy="157.1" r="0.6" fill="#dadada"/><circle cx="261.3" cy="180.4" r="0.9" fill="#c8c8c8"/><circle cx="270.7" cy="126.4" r="0.8" fill="#c8c8c8"/><circle cx="251.5" cy="121.4" r="0.7" fill="#444"/><circle cx="267.8" cy="162.3" r="0.7" fill="#444"/><circle cx="250.5" cy="168.0" r="0.8" fill="#444"/><circle cx="252.3" cy="157.9" r="0.7" fill="#dadada"/><circle cx="269.0" cy="94.1" r="0.6" fill="#333"/><circle cx="250.4" cy="181.2" r="0.7" fill="#333"/><circle cx="268.5" cy="170.4" r="0.7" fill="#444"/><circle cx="270.4" cy="194.6" r="0.5" fill="#222"/><circle cx="258.9" cy="183.2" r="0.6" fill="#c8c8c8"/><circle cx="269.7" cy="144.8" r="0.8" fill="#333"/><circle cx="252.9" cy="115.6" r="0.8" fill="#dadada"/><circle cx="262.1" cy="115.9" r="0.5" fill="#dadada"/><circle cx="264.0" cy="155.7" r="0.8" fill="#444"/><circle cx="258.7" cy="160.0" r="0.7" fill="#333"/>
</g>
<path d="M248,201 L248,99 A12,12 0 0 1 272,99 L272,201" fill="none" stroke="#2e2e2e" stroke-width="1.8"/>
<rect x="248.5" y="200.5" width="23" height="2.5" fill="#4a4a4a" opacity="0.7"/>
<!-- baseline -->
<rect x="61" y="230.8" width="668" height="1.2" fill="#585858"/>
<!-- small burs -->
<g fill="#1c1c1c">
<path d="M421.3,192 L421.3,140 A6,6 0 0 1 433.3,140 L433.3,192 Z"/>
<path d="M486,192 L486,141 A7,7 0 0 1 500.4,141 L500.4,192 Z"/>
<path d="M552,192 L552,141.5 A8,8 0 0 1 568.2,141.5 L568.2,192 Z"/>
<path d="M614.3,163.6 L614.3,121 A13.35,15 0 0 1 641,121 L641,163.6 Z"/>
</g>
<g fill="none" stroke="#242424" stroke-width="1.7">
<path d="M423,192 L420,201 L420,231 M432,192 L435,201 L435,231 M420,201 L435,201"/>
<path d="M488.5,192 L485.8,201 L485.8,231 M498,192 L500.8,201 L500.8,231 M485.8,201 L500.8,201"/>
<path d="M554,192 L552,200.5 L552,231 M566.5,192 L567.3,200.5 L567.3,231 M552,200.5 L567.3,200.5"/>
<path d="M616.5,163.6 L616.5,231 M639,163.6 L639,231"/>
</g>
<g stroke="#333" stroke-width="1" fill="none">
<path d="M629,106.5 L669,106.5 M641,163.5 L669,163.5 M659.5,110 L659.5,160"/>
</g>
<path d="M659.5,106.5 L657,118 L662,118 Z M659.5,163.5 L657,152 L662,152 Z" fill="#1c1c1c"/>
</svg>
<div class="a" style="left:66px;top:239px;font-size:17px;line-height:17px;color:#222;word-spacing:-1.5px">L mm</div>
<div class="a b" style="left:69.5px;top:189.5px;font-size:42px;line-height:41.5px;font-weight:bold;color:#1a1a1a;-webkit-text-stroke:0.7px #1a1a1a;transform-origin:0 0;transform:scaleX(1.095)">880</div>
<div class="a" style="left:668.3px;top:128.6px;font-size:16.5px;line-height:16px;color:#222">L</div>
<div class="lab" style="left:415.8px;top:238.6px">6,0</div>
<div class="lab" style="left:482.5px;top:238.6px">6,0</div>
<div class="lab" style="left:549px;top:238.6px">6,0</div>
<div class="lab" style="left:616.2px;top:238.6px">6,0</div>
<!-- table -->
<div class="blk" style="top:287px"></div>
<div class="pink" style="top:290px;height:27px"></div>
<div class="gry" style="top:317px;background:#6f6f6f"></div>
<div class="gry" style="top:344px"></div>
<div class="blk" style="top:373px"></div>
<div class="pink" style="top:376px;height:26px"></div>
<div class="gry" style="top:402px;background:#6f6f6f"></div>
<div class="blk" style="top:430px"></div>
<div class="pink" style="top:433px;height:26px"></div>
<div class="gry" style="top:459px;background:#6f6f6f"></div>
<div class="blk" style="top:487px"></div>
<div class="sq" style="top:322px;background:#0666a6"></div>
<div class="sq" style="top:348.5px;background:#0666a6"></div>
<div class="sq" style="top:407px;background:#05944a"></div>
<div class="sq" style="top:464px;background:#d92432"></div>
<div class="t" style="left:175px;top:321px">880 <span class="b">104</span></div>
<div class="t" style="left:175px;top:349px">880 <span class="b">314</span></div>
<div class="t" style="left:175px;top:407px;word-spacing:-2px">880 G <span class="b">314</span></div>
<div class="t" style="left:175px;top:464px;word-spacing:-0.5px">880 F <span class="b">314</span></div>
<div class="n" style="left:405.5px;top:349.3px">012</div>
<div class="n" style="left:472.5px;top:347.8px">014</div>
<div class="n" style="left:539.5px;top:320.8px">016</div>
<div class="n" style="left:608.5px;top:320.8px">027</div>
<div class="n" style="left:539.5px;top:349.3px">016</div>
<div class="n" style="left:405.5px;top:405.8px">012</div>
<div class="n" style="left:472.5px;top:404.8px">014</div>
<div class="n" style="left:405.5px;top:462.8px">012</div>
</body></html>
